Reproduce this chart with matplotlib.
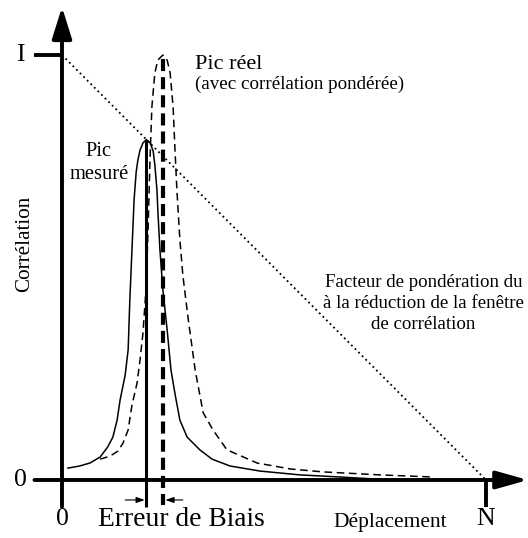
import matplotlib.pyplot as plt

plt.rcParams['font.family'] = ['Liberation Serif', 'DejaVu Serif']

# displacement in % of N, correlation in units of I
N = 100
I = 1.0

# measured peak (solid)
mes_x = [1.4, 4.2, 6.6, 9.0, 10.8, 12.0, 13.0, 13.7, 14.9, 15.6, 16.0, 16.5, 17.0,
         17.5, 17.9, 18.4, 19.1, 19.9, 20.8, 21.5, 21.9, 22.4, 22.6, 23.1, 23.8,
         24.8, 25.7, 26.7, 27.8, 29.5, 32.5, 35.4, 39.6, 46.7, 56.1, 65.6, 74.3]
mes_y = [0.028, 0.033, 0.040, 0.054, 0.078, 0.101, 0.141, 0.188, 0.247, 0.306, 0.424,
         0.541, 0.659, 0.725, 0.753, 0.776, 0.793, 0.801, 0.793, 0.774, 0.741, 0.682,
         0.635, 0.541, 0.447, 0.353, 0.259, 0.200, 0.141, 0.101, 0.071, 0.049, 0.033,
         0.021, 0.012, 0.007, 0.002]

# real peak (dashed, weighted correlation)
real_x = [9.0, 11.3, 13.2, 14.4, 15.6, 16.5, 17.7, 18.4, 19.1, 19.8, 20.3, 20.75,
          21.2, 21.9, 22.6, 23.8, 24.8, 25.5, 26.2, 26.65, 27.1, 27.8, 28.5, 29.7,
          31.4, 33.3, 35.6, 38.9, 46.0, 53.8, 61.6, 75.0, 87.5]
real_y = [0.049, 0.056, 0.068, 0.087, 0.118, 0.176, 0.228, 0.282, 0.346, 0.447, 0.588,
          0.753, 0.878, 0.958, 0.988, 1.0, 0.988, 0.958, 0.878, 0.776, 0.682, 0.565,
          0.482, 0.384, 0.259, 0.158, 0.118, 0.071, 0.040, 0.026, 0.019, 0.012, 0.007]

mes_peak = 19.9
real_peak = 23.8

fig = plt.figure(figsize=(5.28, 5.38), dpi=100)
ax = fig.add_axes([0, 0, 1, 1])
ax.set_xlim(-14.62, 109.9)
ax.set_ylim(-0.1365, 1.1294)
ax.axis('off')

# axes with arrows
ax.annotate('', xy=(0, 1.113), xytext=(0, -0.063),
            arrowprops=dict(arrowstyle='-|>,head_length=1.6,head_width=0.5',
                            lw=2.8, color='black', mutation_scale=12, shrinkA=0, shrinkB=0))
ax.annotate('', xy=(109.9, 0), xytext=(-6.5, 0),
            arrowprops=dict(arrowstyle='-|>,head_length=1.6,head_width=0.45',
                            lw=2.8, color='black', mutation_scale=12, shrinkA=0, shrinkB=0))
ax.plot([-6.5, 0], [I, I], color='black', lw=2.8, solid_capstyle='butt')
ax.plot([N, N], [0, -0.063], color='black', lw=2.8, solid_capstyle='butt')

# weighting factor
ax.plot([0, N], [I, 0], color='black', lw=1.3, linestyle=(0, (1, 1.8)))

# peaks
ax.plot(mes_x, mes_y, color='black', lw=1.1)
ax.plot(real_x, real_y, color='black', lw=1.1, linestyle=(0, (5, 3)))

ax.plot([mes_peak, mes_peak], [0.801, -0.063], color='black', lw=2.2, solid_capstyle='butt')
ax.plot([real_peak, real_peak], [0.99, -0.06], color='black', lw=3.0,
        linestyle=(0, (2.9, 1.45)))

# bias error arrows
ax.annotate('', xy=(mes_peak - 0.4, -0.047), xytext=(14.9, -0.047),
            arrowprops=dict(arrowstyle='-|>,head_length=0.5,head_width=0.18',
                            lw=0.8, color='black', mutation_scale=10, shrinkA=0, shrinkB=0))
ax.annotate('', xy=(real_peak + 0.6, -0.047), xytext=(28.5, -0.047),
            arrowprops=dict(arrowstyle='-|>,head_length=0.5,head_width=0.18',
                            lw=0.8, color='black', mutation_scale=10, shrinkA=0, shrinkB=0))

# labels
ax.text(-9.9, I, 'I', fontsize=18.5, ha='center', va='center')
ax.text(-9.9, 0, '0', fontsize=18.5, ha='center', va='center')
ax.text(0, -0.092, '0', fontsize=18.5, ha='center', va='center')
ax.text(N, -0.092, 'N', fontsize=18.5, ha='center', va='center')
ax.text(28.1, -0.092, 'Erreur de Biais', fontsize=19.8, ha='center', va='center')
ax.text(77.3, -0.1, 'Déplacement', fontsize=15.5, ha='center', va='center')
ax.text(-8.9, 0.555, 'Corrélation', fontsize=15.2, ha='center', va='center', rotation=90)
ax.text(8.7, 0.746, 'Pic\nmesuré', fontsize=14.8, ha='center', va='center', linespacing=1.3)
ax.text(31.4, 0.978, 'Pic réel', fontsize=16, ha='left', va='center')
ax.text(31.4, 0.93, '(avec corrélation pondérée)', fontsize=13.7, ha='left', va='center')
ax.text(85.2, 0.416, 'Facteur de pondération du\nà la réduction de la fenêtre\nde corrélation',
        fontsize=13.6, ha='center', va='center', linespacing=1.3)

fig.savefig('out.png', dpi=100)
